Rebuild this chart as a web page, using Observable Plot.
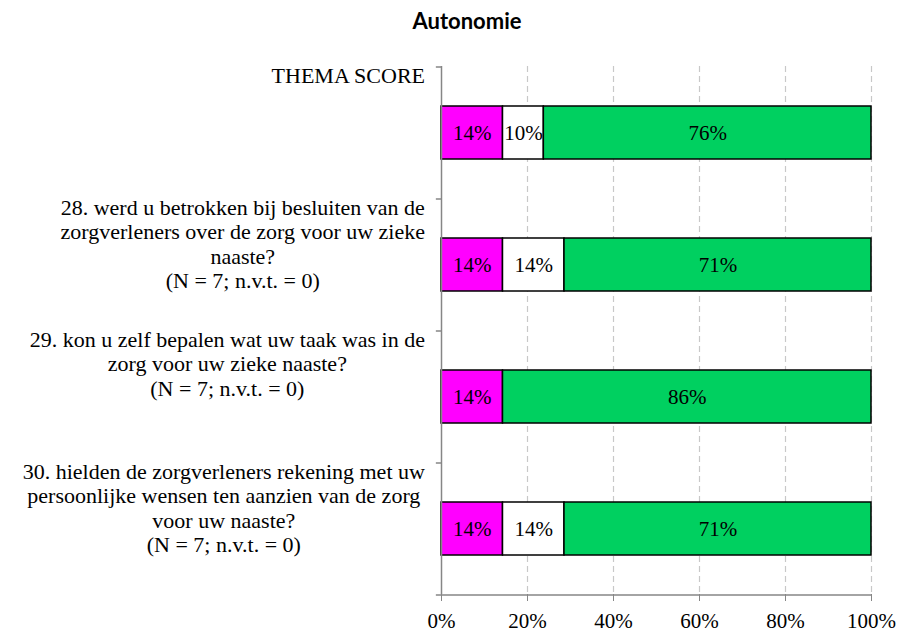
<!DOCTYPE html>
<html>
<head>
<meta charset="utf-8">
<script src="https://cdn.jsdelivr.net/npm/d3@7"></script>
<script src="https://cdn.jsdelivr.net/npm/@observablehq/plot@0.6"></script>
<style>
  html, body { margin: 0; padding: 0; background: #fff; }
  #wrap { width: 903px; height: 633px; position: relative; }
  #title { height: 40px; width: 903px; font-family: Lato, "Open Sans", sans-serif; font-weight: bold; font-size: 22px; line-height: 22px; color: #000; position: relative; }
  #title span { position: absolute; left: 467px; top: 10px; transform: translateX(-50%); white-space: nowrap; }
</style>
</head>
<body>
<div id="wrap">
  <div id="title"><span id="titleText"></span></div>
  <div id="chart"></div>
</div>
<script>
const titleText = "Autonomie";
const categories = [
  "THEMA SCORE",
  "28. werd u betrokken bij besluiten van de\nzorgverleners over de zorg voor uw zieke\nnaaste?\n(N = 7; n.v.t. = 0)",
  "29. kon u zelf bepalen wat uw taak was in de\nzorg voor uw zieke naaste?\n(N = 7; n.v.t. = 0)",
  "30. hielden de zorgverleners rekening met uw\npersoonlijke wensen ten aanzien van de zorg\nvoor uw naaste?\n(N = 7; n.v.t. = 0)"
];
const seriesNames = ["negatief", "neutraal", "positief"];
const seriesColors = ["#FF00FF", "#FFFFFF", "#00D060"];
const negatief = [14.3, 14.3, 14.3, 14.3];
const neutraal = [9.5, 14.3, 0, 14.3];
const positief = [76.2, 71.4, 85.7, 71.4];
const xTicks = [0, 20, 40, 60, 80, 100];

document.getElementById("titleText").textContent = titleText;

const seriesValues = [negatief, neutraal, positief];
const rows = [];
categories.forEach((c, i) => {
  seriesNames.forEach((s, j) => {
    rows.push({cat: c, series: s, value: seriesValues[j][i]});
  });
});

const serif = "'Liberation Serif', 'Times New Roman', serif";
const halfStep = (594 - 66) / categories.length / 2;

const plot = Plot.plot({
  width: 903,
  height: 593,
  marginLeft: 441,
  marginRight: 32,
  marginTop: 26,
  marginBottom: 39,
  style: {fontFamily: serif, fontSize: "21px", color: "#000", background: "#fff"},
  x: {domain: [0, 100], ticks: xTicks, label: null},
  y: {domain: categories, paddingInner: 0.6, paddingOuter: 0.3, axis: null},
  color: {domain: seriesNames, range: seriesColors},
  marks: [
    Plot.ruleX(xTicks.filter(d => d > 0), {stroke: "#c8c8c8", strokeWidth: 1.2, strokeDasharray: "6,4"}),
    Plot.barX(rows, Plot.stackX({x: "value", y: "cat", fill: "series", stroke: "#000", strokeWidth: 1.5, order: seriesNames})),
    Plot.text(rows.filter(d => d.value > 0), Plot.stackX({x: "value", y: "cat", z: "series", order: seriesNames, text: d => Math.round(d.value) + "%", fill: "#000", fontSize: 21})),
    Plot.ruleX([0], {stroke: "#868686", strokeWidth: 1.5}),
    Plot.ruleY([categories[categories.length - 1]], {y: d => d, x1: 0, x2: 100, dy: halfStep, stroke: "#868686", strokeWidth: 1.5}),
    Plot.ruleY(categories, {y: d => d, x1: -1.2, x2: 0, dy: -halfStep, stroke: "#868686", strokeWidth: 1.5}),
    Plot.ruleY([categories[categories.length - 1]], {y: d => d, x1: -1.2, x2: 0, dy: halfStep, stroke: "#868686", strokeWidth: 1.5}),
    Plot.axisX({ticks: xTicks, tickFormat: d => d + "%", tickSize: 7, stroke: "#868686", tickPadding: 12, fontSize: 21, fill: "#000", label: null}),
    Plot.text(categories, {x: 0, y: d => d, text: d => d, textAnchor: "middle", lineAnchor: "top", dy: -67, lineHeight: 1.1, fontSize: 22, fill: "#010101"})
  ]
});
document.getElementById("chart").appendChild(plot);

// right-align each centered label block so its right edge sits at x = 425
const rightEdge = 425;
const svgLeft = plot.getBoundingClientRect().left;
plot.querySelectorAll('g[fill="#010101"] text').forEach(t => {
  const r = t.getBoundingClientRect();
  const shift = rightEdge - (r.right - svgLeft);
  const tr = t.getAttribute("transform") || "";
  t.setAttribute("transform", `translate(${shift},0) ` + tr);
});
</script>
</body>
</html>
